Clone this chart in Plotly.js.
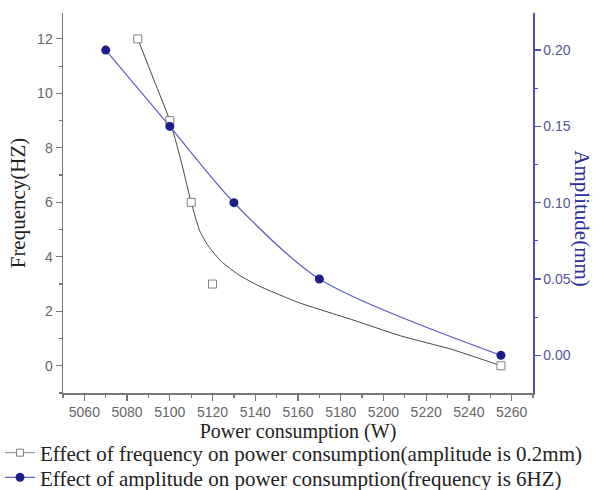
<!DOCTYPE html>
<html>
<head>
<meta charset="utf-8">
<script src="https://cdn.plot.ly/plotly-3.0.1.min.js"></script>
<style>html,body{margin:0;padding:0;background:#fff;}</style>
</head>
<body>
<div id="chart" style="width:608px;height:490px;"></div>
<script>
// Series 1: effect of frequency (left axis)
const freqPower = [5085, 5100, 5110, 5120, 5255];
const freqValues = [12, 9, 6, 3, 0];
// Fitted (smoothed) curve for series 1
const freqFitPower = [5085, 5092.5, 5100, 5105, 5110, 5114, 5118, 5124, 5132, 5142, 5153, 5161, 5185, 5208, 5232, 5255];
const freqFitValues = [12, 10.5, 9.0, 7.6, 6.0, 4.95, 4.4, 3.84, 3.35, 2.92, 2.55, 2.30, 1.7, 1.1, 0.6, 0];
// Series 2: effect of amplitude (right axis)
const ampPower = [5070, 5100, 5130, 5170, 5255];
const ampValues = [0.20, 0.15, 0.10, 0.05, 0.00];

const name1 = 'Effect of frequency on power consumption(amplitude is 0.2mm)';
const name2 = 'Effect of amplitude on power consumption(frequency is 6HZ)';

const grayLine = '#444444';
const squareEdge = '#808080';
const blueLine = '#6464c8';
const blueMarker = '#1e1e8c';

const traces = [
  {x: freqFitPower, y: freqFitValues, type: 'scatter', mode: 'lines',
   line: {color: grayLine, width: 1, shape: 'spline', smoothing: 0.6},
   showlegend: false, hoverinfo: 'skip', xaxis: 'x', yaxis: 'y'},
  {x: freqPower, y: freqValues, type: 'scatter', mode: 'markers',
   marker: {symbol: 'square', size: 8, color: '#ffffff', line: {color: squareEdge, width: 1}},
   showlegend: false, xaxis: 'x', yaxis: 'y'},
  {x: [null], y: [null], type: 'scatter', mode: 'lines+markers', name: name1,
   line: {color: squareEdge, width: 1},
   marker: {symbol: 'square', size: 7, color: '#ffffff', line: {color: squareEdge, width: 1}},
   legend: 'legend', xaxis: 'x', yaxis: 'y'},
  {x: ampPower, y: ampValues, type: 'scatter', mode: 'lines+markers', name: name2,
   line: {color: blueLine, width: 1.3, shape: 'spline', smoothing: 0.8},
   marker: {symbol: 'circle', size: 9, color: blueMarker},
   legend: 'legend2', xaxis: 'x', yaxis: 'y2'}
];

const tickFont = {family: 'Liberation Sans, Arial, sans-serif', size: 14, color: '#666666'};
const serif = 'Liberation Serif, Times New Roman, serif';
const legendFont = {family: serif, size: 21, color: '#222222'};

const layout = {
  width: 608, height: 490,
  margin: {l: 63, r: 75, t: 13, b: 97, pad: 0, autoexpand: false},
  paper_bgcolor: '#ffffff', plot_bgcolor: '#ffffff',
  showlegend: true,
  legend: {x: -0.134, xanchor: 'left', y: -0.104, yanchor: 'top', orientation: 'v',
           font: legendFont, bgcolor: 'rgba(0,0,0,0)', itemwidth: 30},
  legend2: {x: -0.134, xanchor: 'left', y: -0.169, yanchor: 'top', orientation: 'v',
           font: legendFont, bgcolor: 'rgba(0,0,0,0)', itemwidth: 30},
  xaxis: {range: [5050, 5270], dtick: 20, tick0: 5060, showgrid: false, zeroline: false,
          showline: true, linecolor: '#777777', linewidth: 1.5, automargin: false,
          ticks: 'outside', ticklen: 6, tickcolor: '#777777', tickwidth: 1.2,
          minor: {dtick: 10, ticks: 'outside', ticklen: 3, tickcolor: '#777777', showgrid: false},
          tickfont: tickFont,
          title: {text: 'Power consumption (W)', font: {family: serif, size: 20, color: '#222222'}, standoff: 2}},
  xaxis2: {range: [5050, 5270], overlaying: 'x', side: 'top', dtick: 20, tick0: 5060,
           showgrid: false, zeroline: false, showline: true, linecolor: '#777777', linewidth: 1.5,
           ticks: 'inside', ticklen: 6, tickcolor: '#777777', showticklabels: false, automargin: false,
           minor: {dtick: 10, ticks: 'inside', ticklen: 3, tickcolor: '#777777', showgrid: false}},
  yaxis: {range: [-1, 12.95], dtick: 2, tick0: 0, showgrid: false, zeroline: false,
          showline: true, linecolor: '#777777', linewidth: 1.5, automargin: false,
          ticks: 'outside', ticklen: 6, tickcolor: '#777777', tickwidth: 1.2,
          minor: {dtick: 1, ticks: 'outside', ticklen: 3, tickcolor: '#777777', showgrid: false},
          tickfont: tickFont,
          title: {text: 'Frequency(HZ)', font: {family: serif, size: 21, color: '#222222'}, standoff: 6}},
  yaxis2: {range: [-0.0247, 0.2243], dtick: 0.05, tick0: 0, tickformat: '.2f', overlaying: 'y', side: 'right',
           showgrid: false, zeroline: false, showline: true, linecolor: '#5050b4', linewidth: 1.5, automargin: false,
           ticks: 'outside', ticklen: 6, tickcolor: '#5050b4', tickwidth: 1.2,
           minor: {dtick: 0.025, ticks: 'outside', ticklen: 3, tickcolor: '#5050b4', showgrid: false},
           tickfont: {family: 'Liberation Sans, Arial, sans-serif', size: 14, color: '#55559a'}},
  annotations: [
    {text: 'Amplitude(mm)', xref: 'paper', yref: 'paper', x: 1.104, y: 0.46,
     xanchor: 'center', yanchor: 'middle', textangle: 90, showarrow: false,
     font: {family: serif, size: 21, color: '#2b2b9b'}}
  ]
};

Plotly.newPlot('chart', traces, layout, {displayModeBar: false, staticPlot: true});
</script>
</body>
</html>
